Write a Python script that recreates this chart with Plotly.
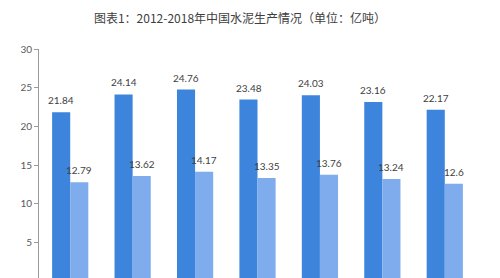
import plotly.graph_objects as go

years = ["2012", "2013", "2014", "2015", "2016", "2017", "2018"]
series_a = [21.84, 24.14, 24.76, 23.48, 24.03, 23.16, 22.17]
series_b = [12.79, 13.62, 14.17, 13.35, 13.76, 13.24, 12.6]
title_text = "图表1：2012-2018年中国水泥生产情况（单位：亿吨）"
y_ticks = [0, 5, 10, 15, 20, 25, 30]

dark = "#3D85DC"
light = "#7EACEC"
font_fam = "Lato, 'Noto Sans CJK SC', sans-serif"

fig = go.Figure()
fig.add_trace(go.Bar(x=years, y=series_a, marker=dict(color=dark, line=dict(width=0)), name="a"))
fig.add_trace(go.Bar(x=years, y=series_b, marker=dict(color=light, line=dict(width=0)), name="b"))

annotations = []
for i, v in enumerate(series_a):
    annotations.append(dict(x=i, y=v, text=str(v), showarrow=False, xref="x", yref="y",
                            xshift=-9, yshift=4, yanchor="bottom",
                            font=dict(size=10, color="#404040", family=font_fam)))
for i, v in enumerate(series_b):
    annotations.append(dict(x=i, y=v, text=str(v), showarrow=False, xref="x", yref="y",
                            xshift=9, yshift=4, yanchor="bottom",
                            font=dict(size=10, color="#404040", family=font_fam)))

fig.update_layout(
    width=500, height=278,
    margin=dict(l=39, r=24, t=49, b=0),
    paper_bgcolor="white", plot_bgcolor="white",
    showlegend=False,
    bargap=0.42, bargroupgap=0,
    title=dict(text=title_text, x=0.48, xanchor="center", y=1 - 19 / 278, yanchor="middle",
               font=dict(size=12, color="#404040", family="'Noto Sans CJK SC', sans-serif")),
    annotations=annotations,
    xaxis=dict(type="category", range=[-0.5, 6.5], showticklabels=False, showline=False,
               ticks="", showgrid=False, zeroline=False),
    yaxis=dict(range=[0.45, 30], tickvals=y_ticks, showgrid=False, zeroline=False,
               showline=True, linecolor="#9a9a9a", linewidth=1,
               ticks="outside", ticklen=4, tickcolor="#9a9a9a",
               tickfont=dict(size=10, color="#595959", family=font_fam)),
)

fig.write_html("out.html")
